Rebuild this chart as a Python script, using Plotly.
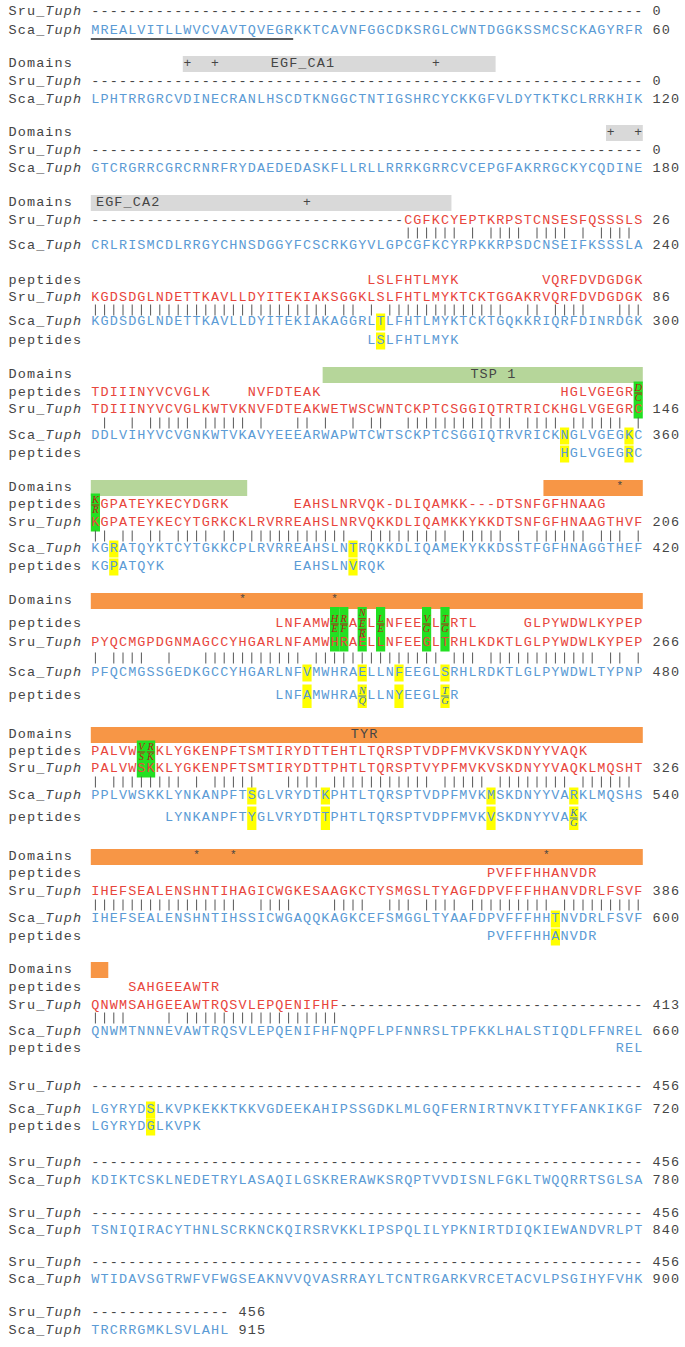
import plotly.graph_objects as go

# ---------------- data ----------------
SRU_SEQ = [
    "-" * 60,
    "-" * 60,
    "-" * 60,
    "-" * 34 + "CGFKCYEPTKRPSTCNSESFQSSSLS",
    "KGDSDGLNDETTKAVLLDYITEKIAKSGGKLSLFHTLMYKTCKTGGAKRVQRFDVDGDGK",
    "TDIIINYVCVGLKWTVKNVFDTEAKWETWSCWNTCKPTCSGGIQTRTRICKHGLVGEGRC",
    "KGPATEYKECYTGRKCKLRVRREAHSLNRVQKKDLIQAMKKYKKDTSNFGFHNAAGTHVF",
    "PYQCMGPDGNMAGCCYHGARLNFAMWHRAELLNFEEGLTRHLKDKTLGLPYWDWLKYPEP",
    "PALVWSKKLYGKENPFTSMTIRYDTTPHTLTQRSPTVYPFMVKVSKDNYYVAQKLMQSHT",
    "IHEFSEALENSHNTIHAGICWGKESAAGKCTYSMGSLTYAGFDPVFFFHHANVDRLFSVF",
    "QNWMSAHGEEAWTRQSVLEPQENIFHF" + "-" * 33,
    "-" * 60,
    "-" * 60,
    "-" * 60,
    "-" * 60,
    "-" * 15,
]
SRU_END = [0, 0, 0, 26, 86, 146, 206, 266, 326, 386, 413, 456, 456, 456, 456, 456]

SCA_SEQ = [
    "MREALVITLLWVCVAVTQVEGRKKTCAVNFGGCDKSRGLCWNTDGGKSSMCSCKAGYRFR",
    "LPHTRRGRCVDINECRANLHSCDTKNGGCTNTIGSHRCYCKKGFVLDYTKTKCLRRKHIK",
    "GTCRGRRCGRCRNRFRYDAEDEDASKFLLRLLRRRKGRRCVCEPGFAKRRGCKYCQDINE",
    "CRLRISMCDLRRGYCHNSDGGYFCSCRKGYVLGPCGFKCYRPKKRPSDCNSEIFKSSSLA",
    "KGDSDGLNDETTKAVLLDYITEKIAKAGGRLTLFHTLMYKTCKTGQKKRIQRFDINRDGK",
    "DDLVIHYVCVGNKWTVKAVYEEEARWAPWTCWTSCKPTCSGGIQTRVRICKNGLVGEGKC",
    "KGRATQYKTCYTGKKCPLRVRREAHSLNTRQKKDLIQAMEKYKKDSSTFGFHNAGGTHEF",
    "PFQCMGSSGEDKGCCYHGARLNFVMWHRAELLNFEEGLSRHLRDKTLGLPYWDWLTYPNP",
    "PPLVWSKKLYNKANPFTSGLVRYDTKPHTLTQRSPTVDPFMVKMSKDNYYVARKLMQSHS",
    "IHEFSEALENSHNTIHSSICWGAQQKAGKCEFSMGGLTYAAFDPVFFFHHTNVDRLFSVF",
    "QNWMTNNNEVAWTRQSVLEPQENIFHFNQPFLPFNNRSLTPFKKLHALSTIQDLFFNREL",
    "LGYRYDSLKVPKEKKTKKVGDEEKAHIPSSGDKLMLGQFERNIRTNVKITYFFANKIKGF",
    "KDIKTCSKLNEDETRYLASAQILGSKRERAWKSRQPTVVDISNLFGKLTWQQRRTSGLSA",
    "TSNIQIRACYTHNLSCRKNCKQIRSRVKKLIPSPQLILYPKNIRTDIQKIEWANDVRLPT",
    "WTIDAVSGTRWFVFWGSEAKNVVQVASRRAYLTCNTRGARKVRCETACVLPSGIHYFVHK",
    "TRCRRGMKLSVLAHL",
]
SCA_END = [60, 120, 180, 240, 300, 360, 420, 480, 540, 600, 660, 720, 780, 840, 900, 915]

# peptides aligned to the 60 alignment columns ("^" = stacked alternatives)
PEP_UP = {
    4: " " * 30 + "LSLFHTLMYK" + " " * 9 + "VQRFDVDGDGK",
    5: "TDIIINYVCVGLK" + " " * 4 + "NVFDTEAK" + " " * 26 + "HGLVGEGR^",
    6: "^GPATEYKECYDGRK" + " " * 7 + "EAHSLNRVQK-DLIQAMKK---DTSNFGFHNAAG",
    7: " " * 20 + "LNFAMW^^A^L^NFEE^L^RTL" + " " * 5 + "GLPYWDWLKYPEP",
    8: "PALVW^^KLYGKENPFTSMTIRYDTTEHTLTQRSPTVDPFMVKVSKDNYYVAQK",
    9: " " * 43 + "PVFFFHHANVDR",
    10: " " * 4 + "SAHGEEAWTR",
}
PEP_LOW = {
    4: " " * 30 + "LSLFHTLMYK",
    5: " " * 51 + "HGLVGEGRC",
    6: "KGPATQYK" + " " * 14 + "EAHSLNVRQK",
    7: " " * 20 + "LNFAMWHRA^LLNYEEGL^R",
    8: " " * 8 + "LYNKANPFTYGLVRYDTTPHTLTQRSPTVDPFMVKVSKDNYYVA^K",
    9: " " * 43 + "PVFFFHHANVDR",
    10: " " * 57 + "REL",
    11: "LGYRYDGLKVPK",
}
FRAC_UP = {
    5: {59: "DC"},
    6: {0: "KR"},
    7: {26: "HE", 27: "RF", 29: "NER", 31: "LE", 36: "VG", 38: "TG"},
    8: {5: "VS", 6: "RK"},
}
FRAC_LOW = {
    7: {29: "NQ", 38: "TG"},
    8: {52: "KG"},
}
YELLOW_COLS = {4: [31], 5: [51, 58], 6: [2, 28], 7: [23, 29, 33, 38],
               8: [17, 25, 43, 52], 9: [50], 11: [6]}

DOMAIN_BARS = [(1, 10, 44, "gray"), (2, 56, 60, "gray"), (3, 0, 39.2, "gray"),
               (5, 25.2, 60, "green"), (6, 0, 17, "green"), (6, 49.2, 60, "orange"),
               (7, 0, 60, "orange"), (8, 0, 60, "orange"), (9, 0, 60, "orange"),
               (10, 0, 1.9, "orange")]
DOMAIN_LABELS = [(1, 22.5, "EGF_CA1"), (3, 3.5, "EGF_CA2"), (5, 43.2, "TSP 1"), (8, 29.2, "TYR")]
DOMAIN_MARKS = [(1, 10, "+"), (1, 13, "+"), (1, 37, "+"), (2, 56, "+"), (2, 59, "+"),
                (3, 23, "+"), (6, 57, "*"), (7, 16, "*"), (7, 26, "*"),
                (9, 11, "*"), (9, 15, "*"), (9, 49, "*")]
SIGNAL_PEPTIDE = (0, 0, 22)   # block, first col, end col (underlined)

# ---------------- layout constants ----------------
ROWS = [
    {"sru": 12, "sca": 31},
    {"dom": 64, "sru": 82, "sca": 100},
    {"dom": 133, "sru": 151, "sca": 169},
    {"dom": 203, "sru": 221, "mat": 233, "sca": 246},
    {"pu": 281, "sru": 298, "mat": 310, "sca": 322, "pl": 341},
    {"dom": 375, "pu": 393, "sru": 410, "mat": 423, "sca": 436, "pl": 454},
    {"dom": 488, "pu": 505, "sru": 523, "mat": 536, "sca": 549, "pl": 567},
    {"dom": 601, "pu": 624, "sru": 643, "mat": 658, "sca": 673, "pl": 696},
    {"dom": 735, "pu": 752, "sru": 769, "mat": 782, "sca": 796, "pl": 818},
    {"dom": 857, "pu": 874, "sru": 892, "mat": 905, "sca": 919, "pl": 937},
    {"dom": 970, "pu": 988, "sru": 1006, "mat": 1018, "sca": 1032, "pl": 1049},
    {"sru": 1087, "sca": 1110, "pl": 1127},
    {"sru": 1163, "sca": 1181},
    {"sru": 1214, "sca": 1231},
    {"sru": 1263, "sca": 1280},
    {"sru": 1313, "sca": 1331},
]
X_LEFT, CW = 8.0, 9.2
SEQ_K = 9
MONO = "Liberation Mono"
SERIF = "Liberation Serif"
RED, BLUE, DARK = "#e8453c", "#5b9bd5", "#454545"
RED_FR, BLUE_FR = "#b52018", "#3a78b8"
BAR_COL = {"gray": "#d9d9d9", "green": "#b6d69a", "orange": "#f79646"}
HL_GREEN, HL_YELLOW = "#22e022", "#ffff00"
FS = 13.5
FR_FS = 10.5
FR_OFF = {2: [-5.0, 5.0], 3: [-10.5, 0.0, 10.5]}


def cx(k):
    return X_LEFT + CW * (k + 0.5)


def sx(c):
    return cx(SEQ_K + c)


def col_left(c):
    return X_LEFT + CW * (SEQ_K + c)


groups = {}


def add(x, y, ch, color, size=FS, family=MONO, style="normal"):
    key = (color, size, family, style)
    g = groups.setdefault(key, ([], [], []))
    g[0].append(x)
    g[1].append(y)
    g[2].append(ch)


def put(s, k0, y, color, size=FS, italic=()):
    for i, ch in enumerate(s):
        if ch == " ":
            continue
        add(cx(k0 + i), y, ch, color, size, MONO, "italic" if i in italic else "normal")


shapes = []


def rect(x0, x1, y0, y1, color):
    shapes.append(dict(type="rect", xref="x", yref="y", x0=x0, x1=x1, y0=y0, y1=y1,
                       fillcolor=color, line=dict(width=0), layer="below"))


def hline(x0, x1, y, color, w=1.0):
    shapes.append(dict(type="line", xref="x", yref="y", x0=x0, x1=x1, y0=y, y1=y,
                       line=dict(color=color, width=w), layer="above"))


def frac_extent(fr, y):
    tops = [y + FR_OFF[len(v)][0] - 6.5 for v in fr.values()]
    bots = [y + FR_OFF[len(v)][-1] + 6.5 for v in fr.values()]
    return min(tops), max(bots)


def fractions(fr, y, color, box_color, top, bot):
    for c, letters in fr.items():
        offs = FR_OFF[len(letters)]
        rect(col_left(c), col_left(c + 1), top, bot, box_color)
        for j, (L, o) in enumerate(zip(letters, offs)):
            add(sx(c), y + o, L, color, FR_FS, SERIF, "italic")
            if j < len(letters) - 1:
                hline(sx(c) - 3.8, sx(c) + 3.8, y + (o + offs[j + 1]) / 2, color, 1.0)


match_x, match_y = [], []

for b, rows in enumerate(ROWS):
    # domains row
    if "dom" in rows:
        y = rows["dom"]
        put("Domains", 0, y, DARK)
        for (bb, c0, c1, kind) in DOMAIN_BARS:
            if bb == b:
                rect(col_left(c0), col_left(c1), y - 8, y + 8, BAR_COL[kind])
        for (bb, cc, lab) in DOMAIN_LABELS:
            if bb == b:
                n = len(lab)
                for i, ch in enumerate(lab):
                    if ch != " ":
                        add(sx(cc) + CW * (i - (n - 1) / 2), y, ch, DARK, FS)
        for (bb, cc, m) in DOMAIN_MARKS:
            if bb == b:
                add(sx(cc), y - (2 if m == "*" else 0), m, DARK, 11 if m == "*" else 13)
    # upper peptides
    if "pu" in rows:
        y = rows["pu"]
        put("peptides", 0, y, DARK)
        put(PEP_UP[b].replace("^", " "), SEQ_K, y, RED)
        if b in FRAC_UP:
            top, bot = frac_extent(FRAC_UP[b], y)
            fractions(FRAC_UP[b], y, RED_FR, HL_GREEN, top, max(bot, rows["sru"] + 8.5))
    # Sru row
    y = rows["sru"]
    put("Sru_Tuph", 0, y, DARK, italic=(4, 5, 6, 7))
    sru = SRU_SEQ[b]
    for i, ch in enumerate(sru):
        add(sx(i), y, ch, DARK if ch == "-" else RED)
    put(str(SRU_END[b]), SEQ_K + len(sru) + 1, y, DARK)
    # match row (identities)
    sca = SCA_SEQ[b]
    if "mat" in rows:
        ym = rows["mat"]
        for i in range(min(len(sru), len(sca))):
            if sru[i] != "-" and sru[i] == sca[i]:
                match_x += [sx(i), sx(i), None]
                match_y += [ym - 5.5, ym + 5.5, None]
    # Sca row
    y = rows["sca"]
    put("Sca_Tuph", 0, y, DARK, italic=(4, 5, 6, 7))
    for i, ch in enumerate(sca):
        add(sx(i), y, ch, BLUE)
    put(str(SCA_END[b]), SEQ_K + len(sca) + 1, y, DARK)
    if b in YELLOW_COLS:
        for c in YELLOW_COLS[b]:
            rect(col_left(c), col_left(c + 1), y - 8.5, y + 8.5, HL_YELLOW)
    if SIGNAL_PEPTIDE[0] == b:
        hline(col_left(SIGNAL_PEPTIDE[1]), col_left(SIGNAL_PEPTIDE[2]), y + 8, "#222222", 1.6)
    # lower peptides
    if "pl" in rows:
        y = rows["pl"]
        put("peptides", 0, y, DARK)
        put(PEP_LOW[b].replace("^", " "), SEQ_K, y, BLUE)
        fr = FRAC_LOW.get(b, {})
        if fr:
            top, bot = frac_extent(fr, y)
            top, bot = min(top, y - 10), max(bot, y + 12)
        else:
            top, bot = y - 8.5, y + 8.5
        for c in YELLOW_COLS.get(b, []):
            if c not in fr:
                rect(col_left(c), col_left(c + 1), top, bot, HL_YELLOW)
        if fr:
            fractions(fr, y, BLUE_FR, HL_YELLOW, top, bot)

traces = [go.Scatter(x=match_x, y=match_y, mode="lines",
                     line=dict(color="#555555", width=1), hoverinfo="skip",
                     showlegend=False)]
for (color, size, family, style), (xs, ys, ts) in groups.items():
    traces.append(go.Scatter(
        x=xs, y=ys, text=ts, mode="text", textposition="middle center",
        textfont=dict(color=color, size=size, family=family, style=style),
        hoverinfo="skip", showlegend=False, cliponaxis=False))

fig = go.Figure(traces)
fig.update_layout(
    width=685, height=1347, margin=dict(l=0, r=0, t=0, b=0),
    xaxis=dict(range=[0, 685], visible=False, fixedrange=True),
    yaxis=dict(range=[1347, 0], visible=False, fixedrange=True),
    plot_bgcolor="white", paper_bgcolor="white", showlegend=False,
    shapes=shapes,
)
fig.write_html(
    "out.html",
    config={"displayModeBar": False},
    post_script="document.body.style.margin='0px';"
                "document.body.style.overflow='hidden';",
)
